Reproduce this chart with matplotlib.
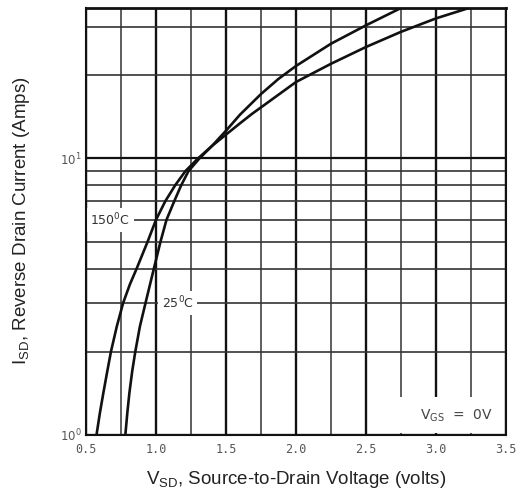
import matplotlib
matplotlib.use("Agg")
import matplotlib.pyplot as plt
from matplotlib.ticker import FixedLocator, NullFormatter, FixedFormatter
from matplotlib.patches import Rectangle

# ---- data ----
v_150 = [0.575, 0.599, 0.624, 0.652, 0.678, 0.72, 0.765, 0.813, 0.862, 0.94, 1.00, 1.066,
         1.137, 1.21, 1.30, 1.40, 1.50, 1.60, 1.686, 1.75, 2.00, 2.25, 2.50, 2.75, 3.00, 3.235]
i_150 = [1.0, 1.2, 1.42, 1.7, 2.0, 2.47, 3.0, 3.5, 4.0, 5.0, 6.0, 7.0,
         8.0, 9.0, 10.0, 11.1, 12.2, 13.4, 14.5, 15.3, 18.9, 22.0, 25.3, 28.7, 32.1, 35.0]

v_25 = [0.781, 0.795, 0.81, 0.83, 0.852, 0.885, 0.925, 0.985, 1.032, 1.075, 1.13, 1.18,
        1.232, 1.31, 1.40, 1.50, 1.60, 1.75, 1.875, 2.00, 2.25, 2.50, 2.75]
i_25 = [1.0, 1.2, 1.42, 1.7, 2.0, 2.47, 3.0, 4.0, 5.0, 6.0, 7.0, 8.0,
        9.0, 10.0, 11.1, 12.6, 14.4, 17.1, 19.4, 21.6, 26.0, 30.3, 35.0]

x_major = [0.5, 1.0, 1.5, 2.0, 2.5, 3.0, 3.5]
x_labels = ["0.5", "1.0", "1.5", "2.0", "2.5", "3.0", "3.5"]
x_minor = [0.75, 1.25, 1.75, 2.25, 2.75, 3.25]
y_major = [1, 10]
y_labels = [r"$10^0$", r"$10^1$"]
y_minor = [2, 3, 4, 5, 6, 7, 8, 9, 20, 30]

fig = plt.figure(figsize=(5.25, 5.0), dpi=100)
ax = fig.add_axes([86/525, 1-435/500, (506-86)/525, (435-8)/500])
ax.set_yscale("log")
ax.set_xlim(0.5, 3.5)
ax.set_ylim(1.0, 35.0)

ax.xaxis.set_major_locator(FixedLocator(x_major))
ax.xaxis.set_major_formatter(FixedFormatter(x_labels))
ax.xaxis.set_minor_locator(FixedLocator(x_minor))
ax.yaxis.set_major_locator(FixedLocator(y_major))
ax.yaxis.set_major_formatter(FixedFormatter(y_labels))
ax.yaxis.set_minor_locator(FixedLocator(y_minor))
ax.yaxis.set_minor_formatter(NullFormatter())

ax.set_axisbelow(True)
ax.grid(True, which="major", axis="x", color="#111111", lw=1.7)
ax.grid(True, which="minor", axis="x", color="#333333", lw=1.1)
ax.grid(True, which="major", axis="y", color="#111111", lw=1.6)
ax.grid(True, which="minor", axis="y", color="#333333", lw=1.2)

ax.tick_params(which="both", length=0)
ax.tick_params(axis="x", pad=6, labelsize=8.5, labelcolor="#555555")
ax.tick_params(axis="y", pad=3, labelsize=8.5, labelcolor="#555555")
for lab in ax.get_xticklabels():
    lab.set_family("DejaVu Sans Mono")

for sp in ax.spines.values():
    sp.set_color("#111111")
    sp.set_linewidth(1.5)
ax.spines["top"].set_linewidth(2.0)

# white patch under VGS label (grid lines interrupted)
ax.add_patch(Rectangle((2.62, 1.015), 0.86, 0.36, facecolor="white",
                       edgecolor="none", zorder=1))

ax.plot(v_150, i_150, color="#111111", lw=1.9, zorder=3, solid_capstyle="butt")
ax.plot(v_25, i_25, color="#111111", lw=1.9, zorder=3, solid_capstyle="butt")

ax.text(0.53, 6.0, r"150$^0$C", fontsize=9, color="#333333", ha="left", va="center",
        zorder=2, bbox=dict(facecolor="white", edgecolor="none", pad=2.5))
ax.text(1.04, 3.0, r"25$^0$C", fontsize=9, color="#333333", ha="left", va="center",
        zorder=2, bbox=dict(facecolor="white", edgecolor="none", pad=2.5))
ax.text(3.15, 1.17, r"V$_\mathregular{GS}$  =  0V", fontsize=10, color="#444444",
        ha="center", va="center", zorder=2)

fig.text(296/525, 1-480/500, r"V$_\mathregular{SD}$, Source-to-Drain Voltage (volts)",
         family="Liberation Sans", fontsize=13.5, color="#222222", ha="center", va="center")
fig.text(22/525, 1-221/500, r"I$_\mathregular{SD}$, Reverse Drain Current (Amps)",
         family="Liberation Sans", fontsize=13.5, color="#222222", ha="center", va="center",
         rotation=90)

fig.savefig("out.png", dpi=100)
